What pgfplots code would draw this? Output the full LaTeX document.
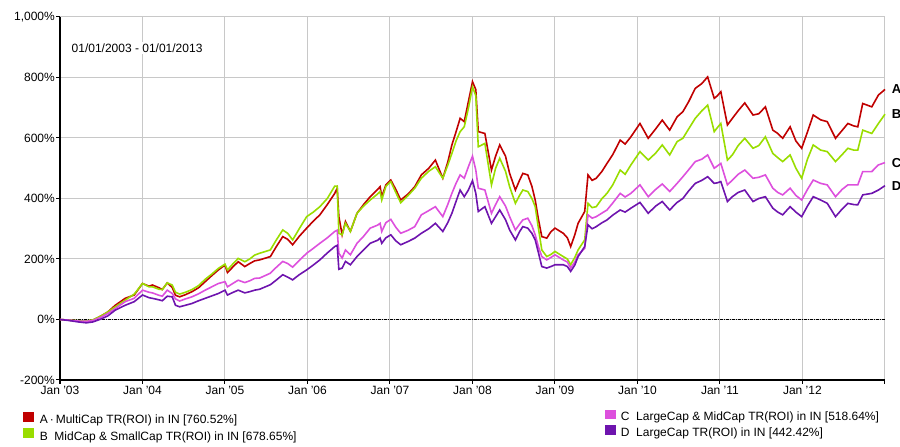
\documentclass[border=0pt]{standalone}
\usepackage{pgfplots}
\pgfplotsset{compat=1.18}
\usepackage{pgfplotstable}
\usepackage{fontspec}
\setmainfont{Liberation Sans}

\definecolor{serA}{HTML}{C00000}
\definecolor{serB}{HTML}{99DD00}
\definecolor{serC}{HTML}{DD50DD}
\definecolor{serD}{HTML}{6E14AE}
\definecolor{gridgray}{HTML}{C8C8C8}

% cumulative total return (%)
\pgfplotstableread{
x A B C D
2003.00 0 0 0 0
2003.10 -2 -2 -2 -3
2003.22 -5 -4 -5 -8
2003.32 -6 -5 -6 -11
2003.40 -2 -1 -3 -8
2003.50 12 12 8 2
2003.58 25 25 20 12
2003.67 47 42 36 31
2003.79 70 64 59 47
2003.90 81 84 70 59
2004.00 119 119 97 81
2004.08 110 108 90 72
2004.12 114 108 88 70
2004.20 105 100 80 65
2004.24 99 99 77 62
2004.30 121 121 97 77
2004.36 106 114 86 75
2004.40 80 90 68 47
2004.45 75 84 61 42
2004.52 82 90 68 47
2004.60 92 99 75 53
2004.68 105 112 85 62
2004.76 125 133 97 70
2004.84 145 150 108 78
2004.92 164 169 119 86
2005.00 180 183 125 97
2005.03 155 164 108 81
2005.10 175 185 120 90
2005.16 191 202 130 97
2005.24 175 191 122 88
2005.30 185 200 128 92
2005.36 194 213 136 97
2005.42 197 219 137 100
2005.55 208 230 153 115
2005.62 240 262 172 130
2005.70 274 296 192 148
2005.76 265 285 185 140
2005.82 247 263 173 131
2005.90 275 300 195 148
2005.99 302 340 219 164
2006.07 325 355 235 180
2006.15 346 373 252 197
2006.24 380 400 270 220
2006.33 417 441 291 241
2006.36 434 441 295 245
2006.38 340 285 219 166
2006.42 280 280 203 170
2006.46 324 318 230 192
2006.52 291 291 214 181
2006.60 351 351 252 208
2006.68 380 375 275 230
2006.76 406 395 302 252
2006.85 430 415 312 262
2006.88 439 423 318 269
2006.90 406 395 291 252
2006.95 445 440 320 270
2007.01 461 456 331 280
2007.07 430 420 305 260
2007.13 395 386 285 247
2007.22 415 410 295 258
2007.30 439 434 307 269
2007.38 478 467 346 285
2007.47 500 490 360 300
2007.55 527 505 373 318
2007.64 467 467 340 291
2007.70 520 510 380 320
2007.75 577 549 417 351
2007.80 620 590 450 390
2007.85 665 621 478 428
2007.90 654 637 467 406
2007.95 720 698 505 428
2008.00 786 769 540 459
2008.04 760 740 494 417
2008.07 621 571 434 357
2008.15 615 582 428 373
2008.23 494 445 351 318
2008.28 540 500 380 340
2008.33 577 533 406 362
2008.40 540 490 375 330
2008.45 483 439 340 296
2008.52 428 384 296 263
2008.57 460 410 315 290
2008.61 483 428 329 307
2008.67 478 423 335 302
2008.72 440 400 310 285
2008.76 395 373 280 263
2008.80 330 300 240 220
2008.84 274 230 208 175
2008.90 269 208 197 170
2008.95 290 215 205 175
2009.00 302 225 214 181
2009.10 285 208 197 181
2009.15 270 200 190 175
2009.19 241 181 170 159
2009.24 280 205 190 180
2009.28 318 230 214 208
2009.36 357 263 235 241
2009.40 478 384 346 313
2009.45 460 370 335 300
2009.50 467 373 340 307
2009.57 490 400 352 320
2009.63 516 417 362 329
2009.70 545 445 385 345
2009.79 593 494 417 362
2009.85 580 480 405 355
2009.92 604 511 417 368
2010.03 648 555 445 387
2010.13 599 527 406 351
2010.22 630 550 430 375
2010.30 659 577 448 390
2010.39 626 544 423 362
2010.48 670 588 450 387
2010.55 687 599 472 400
2010.62 720 630 495 425
2010.70 764 665 522 450
2010.78 780 690 530 460
2010.85 802 709 544 472
2010.93 731 621 500 450
2010.97 740 635 508 452
2011.01 753 648 516 456
2011.09 643 527 445 390
2011.15 665 544 461 406
2011.22 690 575 480 420
2011.30 716 599 494 428
2011.40 676 566 467 390
2011.47 680 575 470 400
2011.55 703 604 478 406
2011.64 626 549 434 368
2011.70 615 535 420 355
2011.76 599 522 412 346
2011.85 637 544 434 373
2011.92 590 500 410 355
2011.99 566 467 395 340
2012.06 620 530 430 375
2012.13 676 577 461 406
2012.22 660 560 450 395
2012.30 654 555 445 384
2012.40 599 522 406 340
2012.48 625 545 430 365
2012.55 648 566 445 384
2012.62 640 560 445 380
2012.67 637 560 445 379
2012.73 714 626 489 412
2012.84 703 615 489 417
2012.92 742 648 511 428
2013.00 760.52 678.65 518.64 442.42
}\roi

\pgfplotsset{
  sqlegend/.style={
    legend image code/.code={\fill[##1] (0pt,-1pt) rectangle (9.5pt,7.5pt);},
    legend style={draw=none, fill=none, inner sep=0pt, outer sep=0pt,
      anchor=north west, row sep=2.8pt, column sep=6pt,
      cells={anchor=west}, nodes={inner sep=0pt}},
  },
}

\begin{document}
\fontsize{12}{14}\selectfont
\begin{tikzpicture}[x=1pt,y=1pt]
\path[use as bounding box] (0,0) rectangle (900,447);
\begin{axis}[
  at={(60pt,67pt)}, anchor=south west,
  width=825pt, height=363pt, scale only axis,
  xmin=2003, xmax=2013, ymin=-200, ymax=1000,
  axis lines=left,
  axis line style={-, line width=1.4pt, black},
  xtick={2003,2004,...,2013},
  xticklabels={Jan '03,Jan '04,Jan '05,Jan '06,Jan '07,Jan '08,Jan '09,Jan '10,Jan '11,Jan '12,{}},
  ytick={-200,0,...,1000},
  /pgf/number format/assume math mode=true,
  /pgf/number format/1000 sep={,},
  yticklabel={\pgfmathprintnumber{\tick}\%},
  tick align=outside, major tick length=4pt,
  tick style={black, line width=1pt},
  yticklabel style={inner sep=0pt, xshift=-1pt},
  xticklabel style={inner sep=0pt, yshift=-2pt},
  grid=major,
  major grid style={gridgray, line width=1pt},
  clip=false,
  sqlegend,
  legend style={at={(axis description cs:-0.0452,-0.0882)}},
]
\addplot[black, line width=0.8pt, dash pattern=on 3pt off 1pt on 1pt off 1pt, forget plot]
  coordinates {(2003,0) (2013,0)};
\addplot[color=serA, line width=1.6pt] table[x=x, y=A] {\roi}
  node[pos=1, anchor=west, xshift=2pt, font=\fontsize{13}{15}\bfseries\selectfont, text=black] {A};
\addlegendentry{A\,·\,MultiCap TR(ROI) in IN [760.52\%]}
\addplot[color=serB, line width=1.6pt] table[x=x, y=B] {\roi}
  node[pos=1, anchor=west, xshift=2pt, font=\fontsize{13}{15}\bfseries\selectfont, text=black] {B};
\addlegendentry{B\ \ MidCap \& SmallCap TR(ROI) in IN [678.65\%]}
\addplot[color=serC, line width=1.6pt] table[x=x, y=C] {\roi}
  node[pos=1, anchor=west, xshift=2pt, font=\fontsize{13}{15}\bfseries\selectfont, text=black] {C};
\addplot[color=serD, line width=1.6pt] table[x=x, y=D] {\roi}
  node[pos=1, anchor=west, xshift=2pt, font=\fontsize{13}{15}\bfseries\selectfont, text=black] {D};
\node[anchor=west, fill=white, inner sep=1.5pt] at (axis description cs:0.0121,0.914) {01/01/2003 - 01/01/2013};
\end{axis}
\begin{axis}[
  at={(60pt,67pt)}, anchor=south west,
  width=825pt, height=363pt, scale only axis,
  hide axis, xmin=0, xmax=1, ymin=0, ymax=1,
  sqlegend,
  legend style={at={(axis description cs:0.6606,-0.0813)}},
]
\addlegendimage{color=serC}
\addlegendentry{C\ \ LargeCap \& MidCap TR(ROI) in IN [518.64\%]}
\addlegendimage{color=serD}
\addlegendentry{D\ \ LargeCap TR(ROI) in IN [442.42\%]}
\end{axis}
\end{tikzpicture}
\end{document}
